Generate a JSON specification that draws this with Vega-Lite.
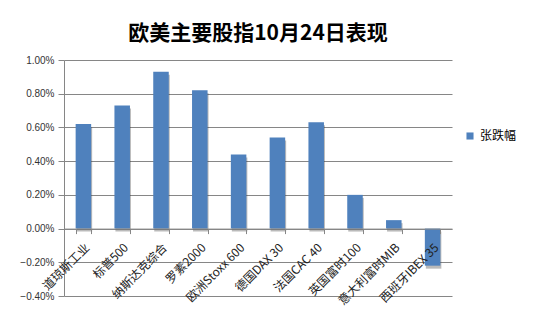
{
  "$schema": "https://vega.github.io/schema/vega-lite/v6.json",
  "autosize": {"type": "none"},
  "width": 388,
  "height": 236,
  "padding": {"left": 64, "top": 60, "right": 89, "bottom": 20},
  "background": "white",
  "title": {
    "text": "欧美主要股指10月24日表现",
    "font": "Noto Sans CJK SC",
    "fontSize": 21,
    "fontWeight": "bold",
    "color": "#000000",
    "anchor": "middle",
    "offset": 11
  },
  "data": {
    "values": [
      {"index": "道琼斯工业", "change": 0.0062},
      {"index": "标普500", "change": 0.0073},
      {"index": "纳斯达克综合", "change": 0.0093},
      {"index": "罗素2000", "change": 0.0082},
      {"index": "欧洲Stoxx 600", "change": 0.0044},
      {"index": "德国DAX 30", "change": 0.0054},
      {"index": "法国CAC 40", "change": 0.0063},
      {"index": "英国富时100", "change": 0.0020},
      {"index": "意大利富时MIB", "change": 0.0005},
      {"index": "西班牙IBEX 35", "change": -0.0022}
    ]
  },
  "encoding": {
    "x": {
      "field": "index",
      "type": "nominal",
      "sort": null,
      "scale": {"paddingInner": 0.6, "paddingOuter": 0.3},
      "axis": {
        "title": null,
        "offset": -67.4,
        "zindex": 1,
        "labelAngle": -45,
        "labelAlign": "right",
        "labelBaseline": "top",
        "labelFont": "Noto Sans CJK SC",
        "labelFontSize": 12,
        "labelColor": "#222222",
        "labelPadding": 8,
        "labelDx": 2,
        "tickBand": "extent",
        "tickSize": 5,
        "tickColor": "#868686",
        "domainColor": "#868686",
        "labelOverlap": false
      }
    },
    "y": {
      "field": "change",
      "type": "quantitative",
      "scale": {"domain": [-0.004, 0.01], "nice": false, "zero": false},
      "axis": {
        "title": null,
        "format": ".2%",
        "values": [-0.004, -0.002, 0, 0.002, 0.004, 0.006, 0.008, 0.01],
        "labelFont": "Liberation Sans",
        "labelFontSize": 10,
        "labelColor": "#333333",
        "labelPadding": 4,
        "tickSize": 6,
        "tickColor": "#868686",
        "domainColor": "#868686",
        "gridColor": "#868686",
        "grid": true
      }
    }
  },
  "layer": [
    {
      "mark": {"type": "bar", "color": "#3a3a3a", "opacity": 0.35, "yOffset": 3, "xOffset": 1},
      "encoding": {}
    },
    {
      "mark": {"type": "bar"},
      "encoding": {
        "color": {
          "datum": "张跌幅",
          "scale": {"range": ["#4F81BD"]},
          "legend": {
            "title": null,
            "orient": "none",
            "legendX": 400,
            "legendY": 70,
            "symbolType": "square",
            "symbolSize": 50,
            "labelFont": "Noto Sans CJK SC",
            "labelFontSize": 12,
            "labelColor": "#000000",
            "symbolStrokeWidth": 0
          }
        }
      }
    }
  ],
  "config": {
    "view": {"stroke": null},
    "axis": {"gridWidth": 1, "domainWidth": 1}
  }
}
